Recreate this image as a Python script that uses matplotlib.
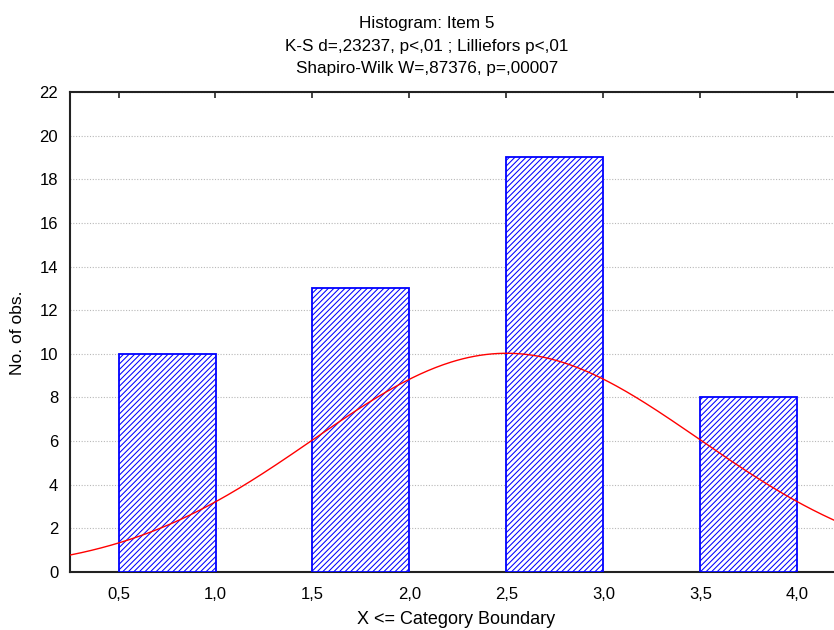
import numpy as np
import matplotlib
matplotlib.use("Agg")
import matplotlib.pyplot as plt
from matplotlib.ticker import FuncFormatter

# Data
bin_lower = [0.5, 1.5, 2.5, 3.5]
bin_upper = [1.0, 2.0, 3.0, 4.0]
counts = [10, 13, 19, 8]
category_values = [1, 2, 3, 4]
x_ticks = [0.5, 1.0, 1.5, 2.0, 2.5, 3.0, 3.5, 4.0]
y_ticks = list(range(0, 23, 2))
title_lines = ["Histogram: Item 5",
               "K-S d=,23237, p<,01 ; Lilliefors p<,01",
               "Shapiro-Wilk W=,87376, p=,00007"]

plt.rcParams['font.family'] = ['Liberation Sans', 'DejaVu Sans']
plt.rcParams['hatch.color'] = '#3030ff'
plt.rcParams['hatch.linewidth'] = 0.75

W, H = 834, 630
fig = plt.figure(figsize=(W / 100, H / 100), dpi=100)
ax = fig.add_axes([70 / W, (H - 572) / H, 776 / W, 480 / H])

lo = np.array(bin_lower); hi = np.array(bin_upper)
ax.bar(lo, np.array(counts), width=hi - lo, align='edge', color='white',
       edgecolor='#0000ff', linewidth=1.3, hatch='//////', zorder=3)

# fitted normal curve from the data
vals = np.repeat(category_values, counts)
mu = vals.mean(); sd = vals.std(ddof=1); n = len(vals)
bw = 0.5
xs = np.linspace(0.25, 4.25, 400)
ys = n * bw * np.exp(-0.5 * ((xs - mu) / sd) ** 2) / (sd * np.sqrt(2 * np.pi))
ax.plot(xs, ys, color='#ff0000', linewidth=1.0, zorder=4)

ax.set_xlim(0.25, 4.25)
ax.set_ylim(0, 22)
ax.set_xticks(x_ticks)
ax.set_yticks(y_ticks)
ax.xaxis.set_major_formatter(FuncFormatter(lambda v, p: f"{v:.1f}".replace('.', ',')))
ax.grid(axis='y', linestyle=(0, (1, 1.5)), color='#b8b8b8', linewidth=0.8, zorder=0)
ax.set_axisbelow(True)

ax.tick_params(axis='x', which='both', top=True, bottom=False, direction='in',
               length=4, width=1.2, color='#222222', labelsize=12, pad=11)
ax.tick_params(axis='y', length=0, labelsize=12, pad=8.5)
for s in ['left', 'bottom', 'top']:
    ax.spines[s].set_linewidth(1.5)
    ax.spines[s].set_color('#222222')
ax.spines['right'].set_visible(False)

fig.text(18 / W, 1 - 333 / H, "No. of obs.", rotation=90, ha='center', va='center', fontsize=12.5)
fig.text(456 / W, 1 - 620 / H, "X <= Category Boundary", ha='center', va='center', fontsize=13)

for t, yb in zip(title_lines, [28, 51, 73]):
    fig.text(427 / W, 1 - yb / H, t, ha='center', va='baseline', fontsize=12.3)

fig.savefig("out.png", dpi=100)
